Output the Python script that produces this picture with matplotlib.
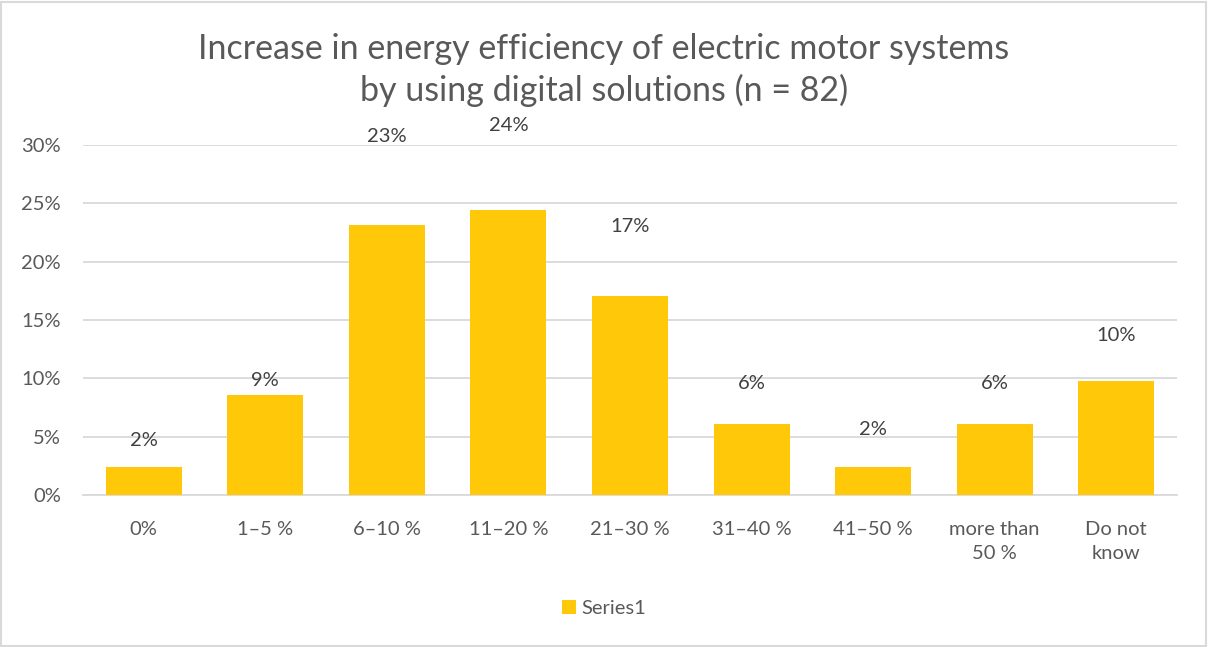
import matplotlib.pyplot as plt
from matplotlib.patches import Rectangle

categories = ['0%', '1–5 %', '6–10 %', '11–20 %', '21–30 %', '31–40 %',
              '41–50 %', 'more than\n50 %', 'Do not\nknow']
counts = [2, 7, 19, 20, 14, 5, 2, 5, 8]
n = 82
shares = [c / n * 100 for c in counts]
# where Excel left the data labels (in % units)
label_y = [4.7, 9.85, 30.7, 31.7, 23.0, 9.6, 5.6, 9.6, 13.7]

plt.rcParams['font.family'] = ['Lato', 'DejaVu Sans']
grey = '#595959'
gold = '#FFC90A'

fig = plt.figure(figsize=(12.08, 6.47), dpi=100)
fig.patches.append(Rectangle((0.001, 0.002), 0.997, 0.995, transform=fig.transFigure,
                             fill=False, edgecolor='#d9d9d9', linewidth=1.5))
ax = fig.add_axes([0.0687, 0.2349, 0.9056, 0.541])

x = range(len(categories))
bars = ax.bar(x, shares, width=0.625, color=gold, label='Series1', zorder=3)
for i, v in enumerate(shares):
    ax.text(i, label_y[i], '%d%%' % round(v), ha='center', va='center',
            fontsize=14.5, color='#404040')

ax.set_xlim(-0.5, len(categories) - 0.5)
ax.set_ylim(0, 30)
ax.set_yticks(range(0, 31, 5))
ax.set_yticklabels(['%d%%' % t for t in range(0, 31, 5)])
ax.set_xticks(list(x))
ax.set_xticklabels(categories, linespacing=1.45)
ax.yaxis.grid(True, color='#d9d9d9', linewidth=1.3, zorder=0)
for s in ['top', 'right', 'left']:
    ax.spines[s].set_visible(False)
ax.spines['bottom'].set_color('#d9d9d9')
ax.spines['bottom'].set_linewidth(1.3)
ax.tick_params(axis='both', length=0, labelsize=14.5, colors=grey)
ax.tick_params(axis='x', pad=19)
ax.tick_params(axis='y', pad=16)

fig.text(0.5, 0.892, 'Increase in energy efficiency of electric motor systems\nby using digital solutions (n = 82)',
         ha='center', va='center', fontsize=24.5, color=grey, linespacing=1.35)

fig.legend(handles=[bars], loc='center', bbox_to_anchor=(0.5, 0.06), frameon=False,
           fontsize=14.5, labelcolor=grey, handlelength=0.7, handleheight=0.7, handletextpad=0.3)

fig.savefig('out.png', dpi=100)
